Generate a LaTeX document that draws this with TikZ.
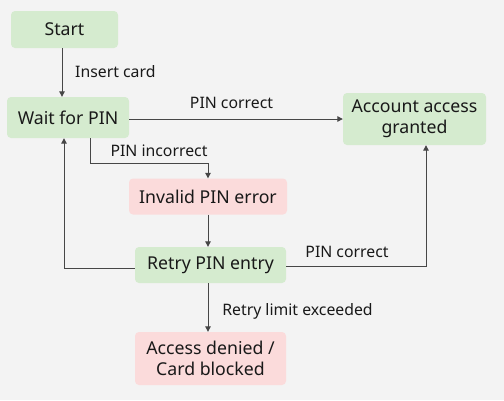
\documentclass[tikz,border=0pt]{standalone}
\usepackage{fontspec}
\setmainfont{Noto Sans}
\usetikzlibrary{arrows.meta,calc}
\definecolor{bgc}{RGB}{243,243,243}
\definecolor{okfill}{RGB}{213,235,207}
\definecolor{badfill}{RGB}{251,219,219}
\definecolor{linec}{RGB}{70,70,70}
\tikzset{
  box/.style={rounded corners=4pt, align=center, inner sep=0pt, font=\fontsize{17.7}{21}\selectfont, text=black!90},
  okbox/.style={box, fill=okfill},
  badbox/.style={box, fill=badfill},
  arr/.style={draw=linec, line width=1pt, -{Triangle[length=5.5pt,width=5.5pt]}},
  lbl/.style={font=\fontsize{15.8}{18}\selectfont, text=black!90, inner sep=0pt},
}
\begin{document}
\begin{tikzpicture}[x=1pt,y=-1pt]
\fill[bgc] (0,0) rectangle (504,400);
\useasboundingbox (0,0) rectangle (504,400);
\node[okbox, minimum width=107pt, minimum height=37pt] (start) at (64.5,29.5) {Start};
\node[okbox, minimum width=122pt, minimum height=41pt] (wait) at (68,117.5) {Wait for PIN};
\node[okbox, minimum width=143pt, minimum height=52pt] (acct) at (414.5,119) {Account access\\granted};
\node[badbox, minimum width=158pt, minimum height=36pt] (inv) at (208,196.5) {Invalid PIN error};
\node[okbox, minimum width=151pt, minimum height=36pt] (retry) at (210.5,265) {Retry PIN entry};
\node[badbox, minimum width=151pt, minimum height=53pt] (deny) at (210.5,358.5) {Access denied /\\Card blocked};
\coordinate (xa) at (62,0);
\coordinate (ya) at (0,119);
\coordinate (xb) at (90,163);
\coordinate (xc) at (208,0);
\coordinate (yd) at (64,268);
\coordinate (ye) at (426,266);
\draw[arr] (start.south -| xa) -- (wait.north -| xa);
\draw[arr] (wait.east |- ya) -- (acct.west |- ya);
\draw[arr] (wait.south -| xb) -- (xb) -| (inv.north);
\draw[arr] (inv.south -| xc) -- (retry.north -| xc);
\draw[arr] (retry.west |- yd) -- (yd) -- (wait.south -| yd);
\draw[arr] (retry.east |- ye) -- (ye) -- (acct.south -| ye);
\draw[arr] (retry.south -| xc) -- (deny.north -| xc);
\node[lbl, anchor=west] (l1) at (75,72) {Insert card};
\node[lbl] (l2) at (231.5,103) {PIN correct};
\node[lbl] (l3) at (159,151) {PIN incorrect};
\node[lbl] (l4) at (347,252) {PIN correct};
\node[lbl] (l5) at (297.5,311) {Retry limit exceeded};
\end{tikzpicture}
\end{document}
